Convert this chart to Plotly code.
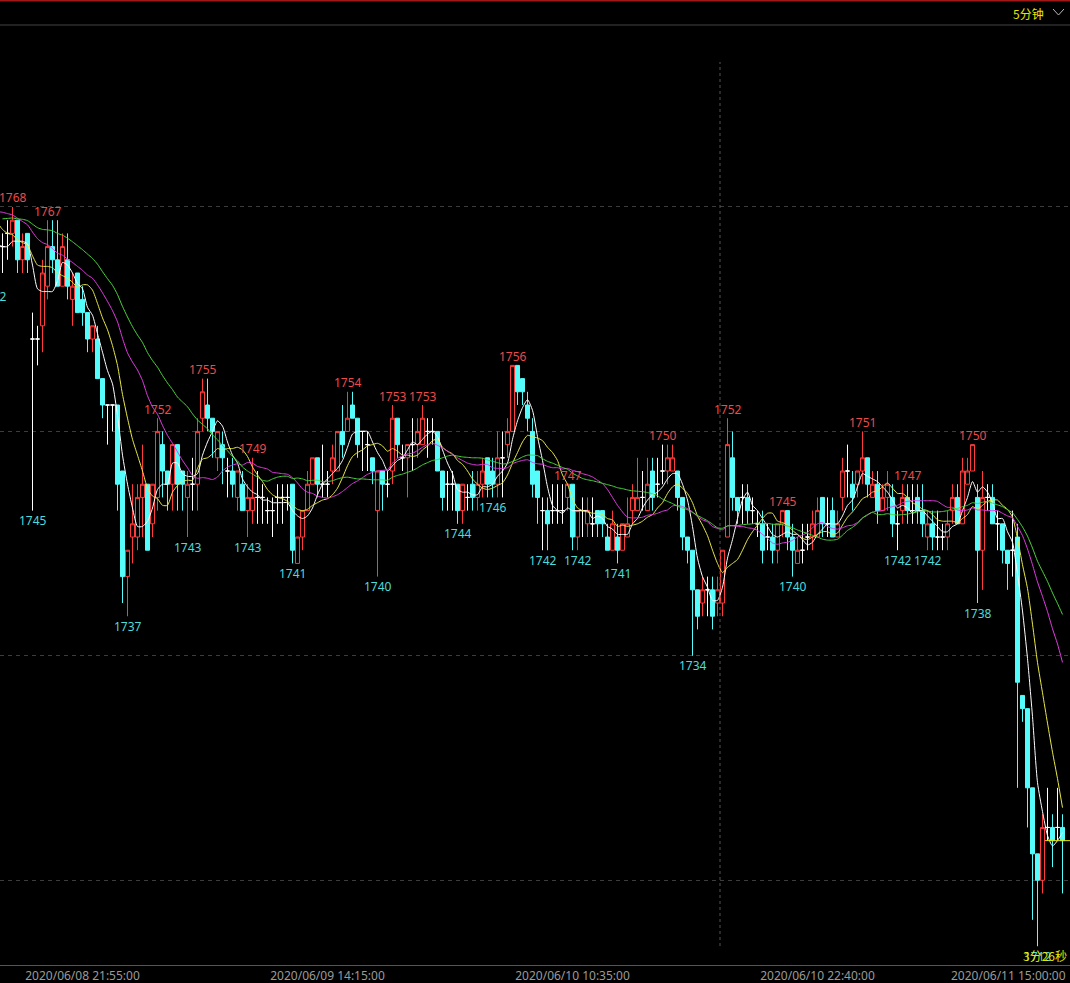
import plotly.graph_objects as go
import pandas as pd

# ---------------- data (5-minute bars, index 0..212) ----------------
open_ = [1765,1766,1766,1767,1764,1766,1758,1758,1759,1762,1765,1764,1762,1764,1761,1763,1761,1760,1758,1758,
         1755,1753,1753,1753,1748,1740,1743,1743,1746,1747,1744,1746,1750,1748,1747,1750,1748,1746,1747,1747,
         1752,1753,1752,1749,1750,1748,1748,1746,1747,1745,1745,1746,1746,1745,1745,1746,1746,1746,1747,1741,
         1743,1745,1747,1749,1747,1747,1748,1748,1751,1751,1753,1752,1751,1750,1749,1745,1748,1747,1748,1752,
         1749,1749,1750,1750,1750,1751,1751,1751,1748,1747,1747,1747,1745,1746,1747,1746,1747,1749,1748,1747,
         1749,1750,1751,1756,1755,1753,1751,1748,1745,1745,1745,1745,1745,1746,1747,1743,1745,1744,1744,1745,
         1745,1743,1742,1743,1742,1743,1745,1745,1746,1745,1748,1747,1748,1748,1748,1748,1746,1743,1742,1739,
         1738,1739,1739,1738,1738,1743,1749,1746,1746,1746,1745,1744,1744,1743,1743,1742,1744,1745,1743,1741,
         1742,1743,1743,1743,1746,1744,1745,1743,1746,1748,1747,1747,1748,1749,1746,1747,1745,1746,1746,1744,
         1745,1746,1745,1746,1745,1743,1744,1743,1743,1743,1745,1746,1744,1747,1748,1746,1742,1746,1746,1744,
         1744,1742,1742,1743,1731,1730,1724,1719,1717,1721,1721,1721,1721]
high = [1766,1767,1768,1767,1766,1766,1760,1759,1764,1767,1767,1767,1766,1766,1763,1763,1762,1760,1759,1759,
        1755,1753,1753,1753,1748,1742,1747,1747,1750,1747,1747,1752,1751,1748,1750,1750,1748,1748,1749,1752,
        1755,1755,1752,1751,1751,1749,1749,1748,1748,1747,1749,1748,1747,1746,1746,1747,1747,1747,1747,1743,
        1745,1748,1749,1749,1750,1748,1750,1751,1753,1754,1754,1752,1751,1751,1749,1748,1748,1748,1753,1752,
        1750,1750,1752,1752,1753,1752,1752,1751,1748,1748,1748,1747,1747,1747,1748,1748,1749,1749,1749,1751,
        1751,1752,1756,1756,1755,1754,1752,1748,1746,1746,1747,1747,1747,1747,1747,1745,1746,1746,1746,1745,
        1745,1744,1745,1744,1744,1746,1747,1749,1748,1749,1749,1749,1750,1750,1750,1748,1746,1743,1742,1739,
        1740,1740,1740,1740,1742,1752,1751,1746,1747,1747,1746,1745,1745,1744,1744,1744,1745,1745,1744,1743,
        1744,1744,1745,1746,1746,1746,1746,1745,1749,1750,1748,1748,1751,1749,1748,1748,1747,1748,1747,1745,
        1747,1747,1747,1747,1747,1745,1745,1745,1744,1745,1747,1747,1749,1749,1750,1747,1748,1747,1747,1745,
        1744,1742,1745,1744,1731,1730,1724,1719,1722,1724,1722,1724,1722]
low = [1763,1764,1765,1763,1763,1763,1745,1756,1757,1761,1763,1762,1762,1761,1759,1760,1759,1757,1757,1755,
       1752,1750,1751,1745,1738,1737,1741,1742,1743,1742,1743,1745,1746,1745,1745,1745,1745,1743,1745,1745,
       1751,1751,1749,1748,1747,1746,1746,1745,1745,1743,1744,1744,1744,1744,1743,1744,1744,1745,1741,1741,
       1742,1745,1747,1746,1746,1746,1747,1748,1749,1751,1752,1749,1748,1748,1747,1740,1745,1746,1747,1749,
       1748,1746,1748,1749,1750,1749,1750,1748,1745,1745,1745,1744,1744,1745,1745,1745,1746,1746,1746,1746,
       1746,1749,1751,1753,1753,1751,1746,1744,1742,1742,1744,1744,1744,1745,1742,1742,1743,1743,1743,1743,
       1743,1742,1742,1741,1742,1743,1744,1745,1745,1745,1745,1746,1747,1747,1748,1745,1742,1741,1734,1736,
       1737,1737,1736,1737,1737,1743,1745,1744,1744,1744,1744,1743,1741,1742,1741,1741,1743,1742,1740,1741,
       1741,1742,1742,1743,1743,1743,1743,1743,1745,1746,1745,1746,1747,1746,1746,1744,1745,1745,1743,1742,
       1744,1744,1744,1744,1743,1742,1742,1742,1742,1742,1744,1744,1744,1747,1748,1738,1739,1745,1744,1742,
       1741,1739,1740,1724,1729,1721,1714,1712,1716,1720,1718,1720,1716]
close = [1765,1766,1767,1764,1765,1764,1758,1758,1763,1765,1764,1762,1765,1762,1762,1760,1760,1758,1759,1755,
         1753,1753,1753,1747,1740,1742,1744,1746,1747,1742,1747,1751,1748,1747,1750,1747,1747,1747,1747,1751,
         1754,1752,1751,1751,1749,1748,1747,1748,1745,1746,1746,1746,1746,1745,1745,1746,1746,1746,1742,1743,
         1745,1747,1749,1747,1747,1747,1749,1751,1750,1752,1752,1750,1751,1750,1748,1748,1747,1747,1752,1750,
         1749,1750,1750,1751,1752,1751,1751,1748,1746,1747,1747,1745,1747,1746,1746,1747,1748,1747,1747,1749,
         1749,1751,1756,1754,1754,1752,1747,1746,1745,1744,1745,1745,1745,1747,1743,1745,1745,1745,1744,1744,
         1744,1742,1744,1742,1744,1744,1746,1746,1746,1747,1746,1747,1748,1749,1749,1746,1743,1742,1739,1737,
         1739,1739,1737,1739,1742,1750,1746,1745,1746,1745,1745,1744,1742,1743,1742,1744,1745,1743,1742,1742,
         1742,1743,1744,1745,1744,1744,1743,1744,1748,1748,1746,1748,1749,1747,1747,1745,1746,1747,1744,1744,
         1746,1745,1745,1745,1744,1744,1743,1743,1743,1744,1746,1744,1748,1748,1750,1742,1746,1746,1744,1744,
         1742,1741,1742,1732,1730,1724,1719,1717,1721,1721,1720,1721,1720]
# closes of the 29 bars before the visible window (only used to seed the moving averages)
pre_close = [1765,1766,1766,1766,1767,1766,1766,1767,1766,1766,
             1768,1769,1769,1770,1769,1769,1768,1769,1768,1770,
             1769,1768,1768,1767,1766,1766,1765,1764,1765]

ma_periods = [5, 10, 20, 30]
ma_colors = ["#FFFFFF", "#E8E84A", "#E23CE2", "#4CD43C"]

high_label_idx = [2, 9, 31, 40, 50, 69, 78, 84, 102, 113, 132, 145, 156, 172, 181, 194]
low_label_idx = [6, 25, 37, 49, 58, 75, 91, 98, 108, 115, 123, 138, 158, 179, 185, 195, 207]
offscreen_low = (-2, 1762)   # label of a bar just left of the window

grid_prices = [1717, 1734, 1751, 1768]
tick_idx = [16, 65, 114, 163, 212]
tick_text = ["2020/06/08 21:55:00", "2020/06/09 14:15:00", "2020/06/10 10:35:00",
             "2020/06/10 22:40:00", "2020/06/11 15:00:00"]
period_text = "5分钟"
countdown_text = "3分26秒"
crosshair_idx = 143.5

# ---------------- styling ----------------
W, H = 1070, 983
M_T, M_B = 26, 18
PLOT_H = H - M_T - M_B
RED = "#FF3C3C"
CYAN = "#54FCFC"
RED_TXT = "#EE4A4A"
CYAN_TXT = "#4CDCDC"
N = len(close)
X_MIN, X_MAX = -0.5, N + 0.5
Y_MIN, Y_MAX = 1710.58, 1781.71
FONT = "Noto Sans"


def px_x(px):
    return px / W


def px_y(py):
    return (H - M_B - py) / PLOT_H


fig = go.Figure()

idx = list(range(N))
groups = {
    "up": [i for i in idx if close[i] > open_[i]],
    "down": [i for i in idx if close[i] < open_[i]],
    "flat": [i for i in idx if close[i] == open_[i]],
}
styles = {
    "up": dict(line=RED, fill="#000000"),
    "down": dict(line=CYAN, fill=CYAN),
    "flat": dict(line="#FFFFFF", fill="#FFFFFF"),
}
for key, ids in groups.items():
    st = styles[key]
    fig.add_trace(go.Candlestick(
        x=ids,
        open=[open_[i] for i in ids], high=[high[i] for i in ids],
        low=[low[i] for i in ids], close=[close[i] for i in ids],
        increasing=dict(line=dict(color=st["line"], width=1), fillcolor=st["fill"]),
        decreasing=dict(line=dict(color=st["line"], width=1), fillcolor=st["fill"]),
        whiskerwidth=0, hoverinfo="skip", showlegend=False,
    ))

full_close = pd.Series(pre_close + close, dtype=float)
n_pre = len(pre_close)
for p, col in zip(ma_periods, ma_colors):
    ma = full_close.rolling(p).mean().iloc[n_pre - 1:].tolist()
    fig.add_trace(go.Scatter(
        x=list(range(-1, N)), y=ma, mode="lines",
        line=dict(color=col, width=1, shape="spline", smoothing=0.6),
        hoverinfo="skip", showlegend=False,
    ))

annotations = []
for i in high_label_idx:
    annotations.append(dict(x=i, y=high[i], xref="x", yref="y", text=str(high[i]),
                            xanchor="center", yanchor="middle",
                            showarrow=False, yshift=9, font=dict(color=RED_TXT, size=12, family=FONT)))
for i in low_label_idx:
    annotations.append(dict(x=i, y=low[i], xref="x", yref="y", text=str(low[i]),
                            xanchor="center", yanchor="middle",
                            showarrow=False, yshift=-10, font=dict(color=CYAN_TXT, size=12, family=FONT)))
annotations.append(dict(x=(offscreen_low[0] + 0.5) / (X_MAX - X_MIN), y=offscreen_low[1],
                        xref="paper", yref="y", text=str(offscreen_low[1]), showarrow=False,
                        xanchor="center", yanchor="middle",
                        yshift=-10, font=dict(color=CYAN_TXT, size=12, family=FONT)))
# last x tick label, pinned to the right edge
annotations.append(dict(x=px_x(W - 2), y=px_y(975), xref="paper", yref="paper", text=tick_text[-1],
                        xanchor="right", yanchor="middle", showarrow=False,
                        font=dict(color="#9A9A9A", size=12, family=FONT)))
# header period selector
annotations.append(dict(x=px_x(1046), y=px_y(13), xref="paper", yref="paper", text=period_text,
                        xanchor="right", yanchor="middle", showarrow=False,
                        font=dict(color="#E6E600", size=12, family="Noto Sans CJK SC")))
# countdown
annotations.append(dict(x=px_x(W - 1), y=px_y(955), xref="paper", yref="paper", text=countdown_text,
                        xanchor="right", yanchor="middle", showarrow=False,
                        font=dict(color="#E6E600", size=12, family="Noto Sans CJK SC")))

shapes = [
    # top red border
    dict(type="line", xref="paper", yref="paper", x0=0, x1=1, y0=px_y(0.8), y1=px_y(0.8),
         line=dict(color="#A01818", width=1.5)),
    # header separator
    dict(type="line", xref="paper", yref="paper", x0=0, x1=1, y0=px_y(25), y1=px_y(25),
         line=dict(color="#444444", width=1)),
    # chevron
    dict(type="path", xref="paper", yref="paper",
         path=f"M {px_x(1053)},{px_y(9)} L {px_x(1058.5)},{px_y(15)} L {px_x(1064)},{px_y(9)}",
         line=dict(color="#BBBBBB", width=1)),
    # vertical crosshair
    dict(type="line", xref="x", yref="paper", x0=crosshair_idx, x1=crosshair_idx,
         y0=px_y(946), y1=px_y(62), line=dict(color="#555555", width=1, dash="3px,3px")),
    # last price line
    dict(type="line", xref="x", yref="y", x0=N - 5 + 0.5, x1=X_MAX, y0=close[-1], y1=close[-1],
         line=dict(color="#E6E600", width=1)),
]

fig.update_layout(
    width=W, height=H,
    margin=dict(l=0, r=0, t=M_T, b=M_B),
    paper_bgcolor="#000000", plot_bgcolor="#000000",
    showlegend=False,
    annotations=annotations,
    shapes=shapes,
    boxmode="overlay",
    boxgap=0.2,
    boxgroupgap=0,
    xaxis=dict(range=[X_MIN, X_MAX], rangeslider=dict(visible=False), showgrid=False, zeroline=False,
               tickmode="array", tickvals=tick_idx[:-1], ticktext=tick_text[:-1], ticks="",
               tickfont=dict(color="#9A9A9A", size=12, family=FONT),
               showline=True, linecolor="#555555", linewidth=1, fixedrange=True),
    yaxis=dict(range=[Y_MIN, Y_MAX], tickmode="array", tickvals=grid_prices, showticklabels=False,
               showgrid=True, gridcolor="#3C3C3C", griddash="4px,4px", gridwidth=1, zeroline=False,
               showline=False, fixedrange=True),
)

fig.write_html("out.html", config={"displayModeBar": False},
               post_script="document.body.style.margin='0';document.body.style.background='#000';")
